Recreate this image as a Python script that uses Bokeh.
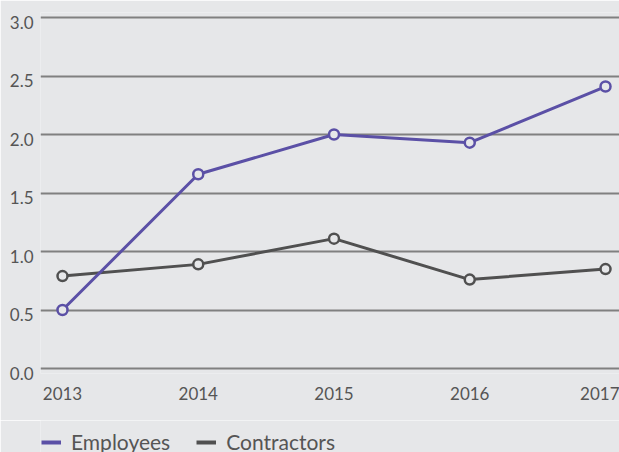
from bokeh.plotting import figure
from bokeh.layouts import column
from bokeh.models import (Range1d, FixedTicker, PrintfTickFormatter, LinearAxis,
                          Legend, LegendItem, ColumnDataSource)
from bokeh.embed import file_html
from bokeh.resources import INLINE

years = [2013, 2014, 2015, 2016, 2017]
employees = [0.50, 1.66, 2.00, 1.93, 2.41]
contractors = [0.79, 0.89, 1.11, 0.76, 0.85]
y_ticks = [0.0, 0.5, 1.0, 1.5, 2.0, 2.5, 3.0]
series_names = ["Employees", "Contractors"]

BG = "#e6e7e9"
PURPLE = "#5b50a6"
DARK = "#505050"
GRID = "#808080"
TEXT = "#555555"
FONT = "Lato"

PX_PER_UNIT = 117.0
Y0, Y1 = -5 / PX_PER_UNIT, 3.0 + 5 / PX_PER_UNIT

p = figure(width=619, height=420, output_backend="svg", toolbar_location=None,
           x_range=Range1d(2012.838, 2017.103), y_range=Range1d(Y0, Y1))
p.background_fill_color = BG
p.border_fill_color = BG
p.outline_line_color = None
p.min_border_left = 40
p.min_border_right = 0
p.min_border_top = 12
p.min_border_bottom = 47

p.xaxis.ticker = FixedTicker(ticks=years)
p.xaxis.axis_line_color = None
p.xaxis.major_tick_line_color = None
p.xaxis.minor_tick_line_color = None
p.xaxis.major_tick_out = 0
p.xaxis.major_tick_in = 0
p.xaxis.major_label_standoff = 13
p.xaxis.major_label_text_font = FONT
p.xaxis.major_label_text_font_size = "17px"
p.xaxis.major_label_text_color = TEXT

p.yaxis.ticker = FixedTicker(ticks=y_ticks)
p.yaxis.visible = False
p.xgrid.visible = False
p.ygrid.ticker = FixedTicker(ticks=y_ticks)
p.ygrid.grid_line_color = GRID
p.ygrid.grid_line_width = 2

# label axis shifted slightly down (labels sit just below their gridlines)
d = 4.5 / PX_PER_UNIT
p.extra_y_ranges = {"lbl": Range1d(Y0 + d, Y1 + d)}
lax = LinearAxis(y_range_name="lbl", ticker=FixedTicker(ticks=y_ticks),
                 formatter=PrintfTickFormatter(format="%.1f"))
lax.axis_line_color = None
lax.major_tick_line_color = None
lax.minor_tick_line_color = None
lax.major_tick_out = 0
lax.major_tick_in = 0
lax.major_label_standoff = 7
lax.major_label_text_font = FONT
lax.major_label_text_font_size = "17px"
lax.major_label_text_color = TEXT
p.add_layout(lax, "left")

src = ColumnDataSource(dict(x=years, emp=employees, con=contractors))

p.line("x", "con", source=src, line_color=DARK, line_width=3)
p.scatter("x", "con", source=src, size=10, line_color=DARK, line_width=2.5,
          fill_color=BG)
p.line("x", "emp", source=src, line_color=PURPLE, line_width=3)
p.scatter("x", "emp", source=src, size=10, line_color=PURPLE, line_width=2.5,
          fill_color=BG)

# legend strip below the chart
q = figure(width=619, height=32, output_backend="svg", toolbar_location=None,
           x_range=Range1d(0, 1), y_range=Range1d(0, 1))
q.background_fill_color = BG
q.border_fill_color = BG
q.outline_line_color = None
q.axis.visible = False
q.grid.visible = False
q.min_border_left = 0
q.min_border_right = 0
q.min_border_top = 0
q.min_border_bottom = 0

# swatch-only renderers, kept outside the strip's visible range
sw_emp = q.line(x=[-10, -9], y=[-10, -10], line_color=PURPLE, line_width=4)
sw_con = q.line(x=[-10, -9], y=[-10, -10], line_color=DARK, line_width=4)

legend = Legend(items=[LegendItem(label=series_names[0], renderers=[sw_emp]),
                       LegendItem(label=series_names[1], renderers=[sw_con])],
                orientation="horizontal", location=(1, -2))
legend.background_fill_alpha = 0
legend.border_line_color = None
legend.padding = 0
legend.margin = 0
legend.spacing = 26
legend.glyph_width = 20
legend.glyph_height = 20
legend.label_standoff = 10
legend.label_text_font = FONT
legend.label_text_font_size = "21px"
legend.label_text_color = TEXT
legend.label_text_baseline = "middle"
q.add_layout(legend, "center")

layout = column(p, q, spacing=0)
open("out.html", "w").write(file_html(layout, INLINE))
